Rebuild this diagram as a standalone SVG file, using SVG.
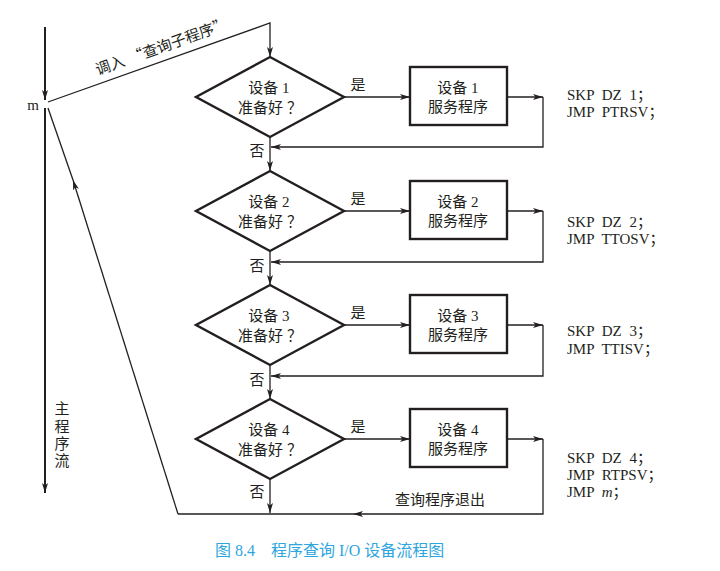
<svg xmlns="http://www.w3.org/2000/svg" width="720" height="571" viewBox="0 0 720 571">
<style>
  .t { font-family: "Liberation Serif", "Noto Sans CJK SC", serif; font-size: 15px; fill: #231f20; }
  .k { font-family: "Noto Sans CJK SC", "Liberation Serif", sans-serif; }
  .c { text-anchor: middle; }
  .shape { fill: none; stroke: #231f20; stroke-width: 2.4; stroke-linejoin: miter; }
  .ln { fill: none; stroke: #231f20; stroke-width: 1.3; }
  .main { fill: none; stroke: #231f20; stroke-width: 2; }
  .cap { font-family: "Liberation Serif", "Noto Sans CJK SC", serif; font-size: 16px; fill: #2ea6de; }
</style>
<defs>
  <marker id="ah" viewBox="0 0 10 6" refX="10" refY="3" markerWidth="10" markerHeight="6" markerUnits="userSpaceOnUse" orient="auto">
    <path d="M0,0 L10,3 L0,6 L2.5,3 z" fill="#231f20"/>
  </marker>
</defs>
<rect width="720" height="571" fill="#ffffff"/>

<g id="connectors">
  <path class="main" d="M45,27 V100" marker-end="url(#ah)"/>
  <path class="main" d="M45,108 V493" marker-end="url(#ah)"/>
  <path class="ln" d="M48,102 L270,23 V57" marker-end="url(#ah)"/>
  <path class="ln" d="M178,514 L73,180" marker-end="url(#ah)"/>
  <path class="ln" d="M73,180 L48,108"/>
  <path class="ln" d="M344,97 H410" marker-end="url(#ah)"/>
  <path class="ln" d="M507,97 H543" marker-end="url(#ah)"/>
  <path class="ln" d="M543,97 V147 H271" marker-end="url(#ah)"/>
  <path class="ln" d="M270,137 V171" marker-end="url(#ah)"/>
  <path class="ln" d="M344,211 H410" marker-end="url(#ah)"/>
  <path class="ln" d="M507,211 H543" marker-end="url(#ah)"/>
  <path class="ln" d="M543,211 V262 H271" marker-end="url(#ah)"/>
  <path class="ln" d="M270,251 V285" marker-end="url(#ah)"/>
  <path class="ln" d="M344,325 H410" marker-end="url(#ah)"/>
  <path class="ln" d="M507,325 H543" marker-end="url(#ah)"/>
  <path class="ln" d="M543,325 V376 H271" marker-end="url(#ah)"/>
  <path class="ln" d="M270,365 V399" marker-end="url(#ah)"/>
  <path class="ln" d="M344,439 H410" marker-end="url(#ah)"/>
  <path class="ln" d="M507,439 H543" marker-end="url(#ah)"/>
  <path class="ln" d="M543,439 V514 H353" marker-end="url(#ah)"/>
  <path class="ln" d="M353,514 H178"/>
  <path class="ln" d="M270,479 V513" marker-end="url(#ah)"/>
</g>

<g id="labels">
  <text class="t" x="33" y="110" text-anchor="middle">m</text>
  <text class="t k c" transform="translate(162,47) rotate(-19.75)" x="0" y="5">调入<tspan dx="5">“</tspan>查询子程序”</text>
  <text class="t c" x="62" y="414">主</text>
  <text class="t c" x="62" y="432">程</text>
  <text class="t c" x="62" y="449">序</text>
  <text class="t c" x="62" y="466">流</text>
  <text class="t c" x="358" y="90">是</text>
  <text class="t c" x="257" y="156">否</text>
  <text class="t c" x="358" y="204">是</text>
  <text class="t c" x="257" y="271">否</text>
  <text class="t c" x="358" y="318">是</text>
  <text class="t c" x="257" y="385">否</text>
  <text class="t c" x="358" y="432">是</text>
  <text class="t c" x="257" y="497">否</text>
  <text class="t" x="440" y="505" text-anchor="middle">查询程序退出</text>
</g>

<g id="dev1">
  <polygon class="shape" points="270,57 344,97 270,137 196,97"/>
  <text class="t c" x="269" y="93">设备 1</text>
  <text class="t k c" x="270" y="113">准备好<tspan dx="4">？</tspan></text>
</g>
<g id="svc1">
  <rect class="shape" x="410" y="67" width="97" height="58"/>
  <text class="t c" x="458" y="93">设备 1</text>
  <text class="t c" x="458" y="112">服务程序</text>
</g>
<g id="code1">
  <text class="t" x="567" y="100" word-spacing="4">SKP DZ 1；</text>
  <text class="t" x="567" y="117" word-spacing="4">JMP PTRSV；</text>
</g>

<g id="dev2">
  <polygon class="shape" points="270,171 344,211 270,251 196,211"/>
  <text class="t c" x="269" y="207">设备 2</text>
  <text class="t k c" x="270" y="227">准备好<tspan dx="4">？</tspan></text>
</g>
<g id="svc2">
  <rect class="shape" x="410" y="181" width="97" height="58"/>
  <text class="t c" x="458" y="207">设备 2</text>
  <text class="t c" x="458" y="226">服务程序</text>
</g>
<g id="code2">
  <text class="t" x="567" y="227" word-spacing="4">SKP DZ 2；</text>
  <text class="t" x="567" y="244" word-spacing="4">JMP TTOSV；</text>
</g>

<g id="dev3">
  <polygon class="shape" points="270,285 344,325 270,365 196,325"/>
  <text class="t c" x="269" y="321">设备 3</text>
  <text class="t k c" x="270" y="341">准备好<tspan dx="4">？</tspan></text>
</g>
<g id="svc3">
  <rect class="shape" x="410" y="295" width="97" height="58"/>
  <text class="t c" x="458" y="321">设备 3</text>
  <text class="t c" x="458" y="340">服务程序</text>
</g>
<g id="code3">
  <text class="t" x="567" y="336" word-spacing="4">SKP DZ 3；</text>
  <text class="t" x="567" y="354" word-spacing="4">JMP TTISV；</text>
</g>

<g id="dev4">
  <polygon class="shape" points="270,399 344,439 270,479 196,439"/>
  <text class="t c" x="269" y="435">设备 4</text>
  <text class="t k c" x="270" y="455">准备好<tspan dx="4">？</tspan></text>
</g>
<g id="svc4">
  <rect class="shape" x="410" y="409" width="97" height="58"/>
  <text class="t c" x="458" y="435">设备 4</text>
  <text class="t c" x="458" y="454">服务程序</text>
</g>
<g id="code4">
  <text class="t" x="567" y="463" word-spacing="4">SKP DZ 4；</text>
  <text class="t" x="567" y="480" word-spacing="4">JMP RTPSV；</text>
  <text class="t" x="567" y="497" word-spacing="4">JMP <tspan font-style="italic">m</tspan>；</text>
</g>

<g id="caption">
  <text class="cap" x="215" y="556" xml:space="preserve">图 8.4　程序查询 I/O 设备流程图</text>
</g>
</svg>
